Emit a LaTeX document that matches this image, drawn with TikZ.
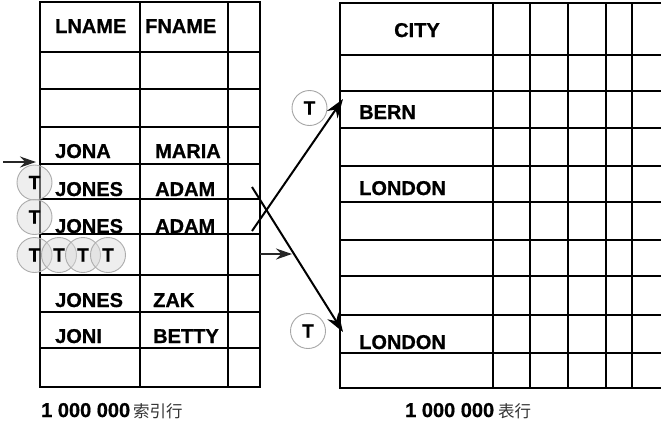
\documentclass[tikz,border=0pt]{standalone}
\usepackage{fontspec}
\setmainfont{Liberation Sans}
\newfontfamily\heavy{Liberation Sans Bold}[FakeBold=0.8]
\newfontfamily\cjk{Noto Sans CJK SC}
\usetikzlibrary{arrows.meta}
\begin{document}
\begin{tikzpicture}[x=1pt,y=-1pt,
  cell/.style={font=\heavy\fontsize{20}{20}\selectfont, anchor=base west, inner sep=0pt},
  frame/.style={line width=2.5pt, line join=miter},
  grid/.style={line width=1.5pt},
  tmark/.style={circle, line width=0.9pt, minimum size=35pt, inner sep=0pt,
    font=\heavy\fontsize{19}{19}\selectfont},
  tshade/.style={tmark, draw=gray!65, fill=gray!30, fill opacity=0.45, text opacity=1},
  tclear/.style={tmark, draw=gray!70, fill=white},
  bigarrow/.style={line width=2pt, -{Stealth[length=19pt,width=13pt]}},
  smallarrow/.style={line width=1.5pt, draw=black!85, -{Stealth[length=16pt,width=11pt]}},
  caption/.style={anchor=base west, inner sep=0pt}]
\useasboundingbox (0,0) rectangle (661,424);

% ---------- index table ----------
\foreach \y in {89,127,164,199,234,275,312,348}
  \draw[grid] (40,\y) -- (260,\y);
\draw[frame] (40,52) -- (260,52);
\foreach \x in {140,228}
  \draw[grid, line width=1.7pt] (\x,2) -- (\x,387);
\draw[frame] (40,2) rectangle (260,387);

\node[cell] (lname) at (55,33) {LNAME};
\node[cell] (fname) at (145,33) {FNAME};
\node[cell] (l1) at (55,158) {JONA};
\node[cell] (f1) at (155,158) {MARIA};
\node[cell] (l2) at (55,196) {JONES};
\node[cell] (f2) at (155,196) {ADAM};
\node[cell] (l3) at (55,233) {JONES};
\node[cell] (f3) at (155,233) {ADAM};
\node[cell] (l4) at (55,307) {JONES};
\node[cell] (f4) at (153,307) {ZAK};
\node[cell] (l5) at (55,343) {JONI};
\node[cell] (f5) at (153,343) {BETTY};

% ---------- table ----------
\foreach \y in {91,128,166,202,240,276,315,353}
  \draw[grid] (340,\y) -- (661,\y);
\draw[frame] (340,55) -- (661,55);
\foreach \x in {493,530,568,606,632}
  \draw[grid, line width=1.6pt] (\x,3) -- (\x,388);
\draw[frame] (661,3) -- (340,3) -- (340,388) -- (661,388);

\node[cell] (city) at (394,37) {CITY};
\node[cell] (bern) at (359,119) {BERN};
\node[cell] (lon1) at (359,195) {LONDON};
\node[cell] (lon2) at (359,349) {LONDON};

% ---------- markers ----------
\node[tshade] (t1) at (34.5,182.5) {T};
\node[tshade] (t2) at (34.5,217) {T};
\node[tshade] (t3) at (34.5,255) {T};
\node[tshade] (t4) at (59,255) {T};
\node[tshade] (t5) at (83,255) {T};
\node[tshade] (t6) at (108,255) {T};
\node[tclear] (t7) at (309.5,108) {T};
\node[tclear] (t8) at (308,331) {T};

% ---------- arrows ----------
\coordinate (startin) at (3,162);
\coordinate (endin) at (36,162);
\draw[smallarrow] (startin) -- (endin);

\coordinate (scanfrom) at (260,254);
\coordinate (scanto) at (292,254);
\draw[smallarrow] (scanfrom) -- (scanto);

\coordinate (upfrom) at (252,231);
\coordinate (upto) at (343,99);
\draw[bigarrow] (upfrom) -- (upto);

\coordinate (downfrom) at (252,187);
\coordinate (downto) at (343,332);
\draw[bigarrow] (downfrom) -- (downto);

% ---------- captions ----------
\node[caption] (capidx) at (41,417)
  {\heavy\fontsize{20}{20}\selectfont 1 000 000\hspace{3pt}\cjk\fontsize{16.5}{16.5}\selectfont\color{black!80}索引行};
\node[caption] (captab) at (405,417)
  {\heavy\fontsize{20}{20}\selectfont 1 000 000\hspace{4pt}\cjk\fontsize{16.5}{16.5}\selectfont\color{black!80}表行};
\end{tikzpicture}
\end{document}
